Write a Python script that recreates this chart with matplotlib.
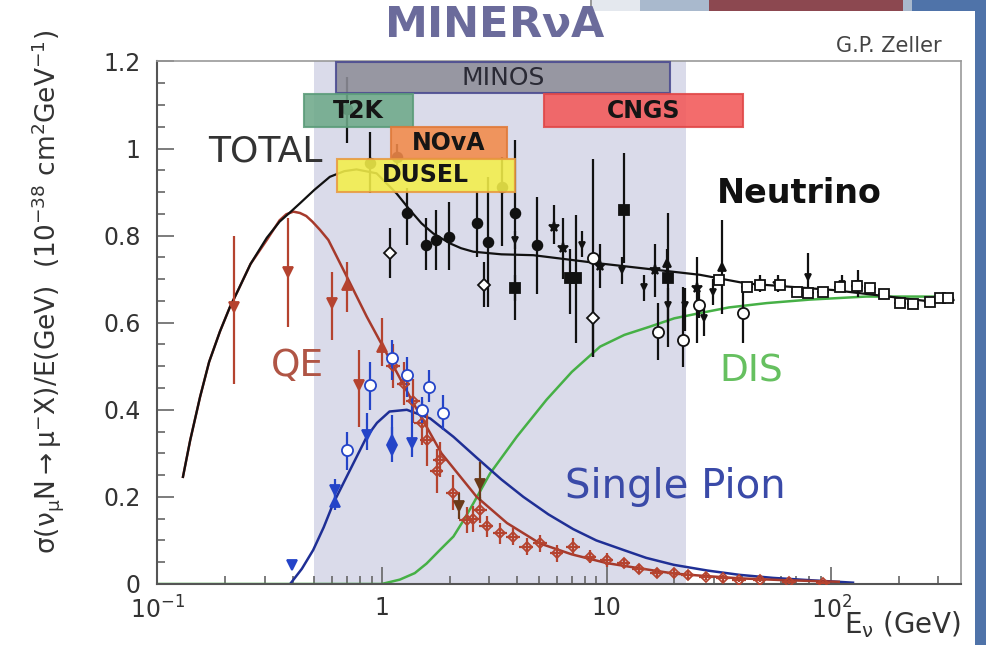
import numpy as np
import matplotlib.pyplot as plt
from matplotlib.patches import Rectangle
from matplotlib.ticker import MultipleLocator, NullFormatter

plt.rcParams['font.family'] = ['DejaVu Sans']
plt.rcParams['mathtext.fontset'] = 'dejavusans'
plt.rcParams['mathtext.default'] = 'regular'

# ---- curves (E in GeV, sigma/E in 1e-38 cm^2/GeV) ----
total_e = [0.13, 0.14, 0.155, 0.17, 0.19, 0.21, 0.229, 0.26, 0.307, 0.35, 0.389, 0.431, 0.5,
           0.586, 0.68, 0.77, 0.946, 1.16, 1.33, 1.5, 1.69, 2.01, 2.25, 2.55, 3.4, 4.72, 9.35,
           26, 42, 102, 284, 350]
total_y = [0.246, 0.33, 0.43, 0.51, 0.58, 0.635, 0.675, 0.735, 0.795, 0.832, 0.853, 0.874, 0.905,
           0.935, 0.948, 0.952, 0.943, 0.897, 0.859, 0.828, 0.805, 0.782, 0.771, 0.763, 0.757,
           0.755, 0.736, 0.71, 0.69, 0.675, 0.648, 0.652]

qe_e = [0.13, 0.14, 0.155, 0.17, 0.19, 0.21, 0.229, 0.26, 0.307, 0.35, 0.375, 0.403, 0.431, 0.46,
        0.49, 0.53, 0.577, 0.697, 0.855, 1.01, 1.38, 1.84, 2.64, 3.6, 5.05, 7.0, 10, 14, 19.9,
        28, 39, 60, 108]
qe_y = [0.246, 0.33, 0.43, 0.51, 0.58, 0.635, 0.675, 0.735, 0.79, 0.835, 0.849, 0.855, 0.852,
        0.845, 0.832, 0.813, 0.79, 0.706, 0.614, 0.545, 0.415, 0.3, 0.2, 0.14, 0.093, 0.068,
        0.048, 0.036, 0.024, 0.018, 0.013, 0.009, 0.005]

pion_e = [0.39, 0.44, 0.494, 0.55, 0.607, 0.721, 0.855, 0.95, 1.08, 1.29, 1.64, 2.08, 2.64, 3.4,
          4.26, 5.5, 7.1, 9.0, 11.9, 15, 19.9, 28, 39, 55, 78.5, 125]
pion_y = [0.0, 0.035, 0.078, 0.13, 0.185, 0.262, 0.338, 0.37, 0.396, 0.40, 0.38, 0.338, 0.29,
          0.24, 0.20, 0.16, 0.126, 0.10, 0.078, 0.06, 0.044, 0.031, 0.021, 0.014, 0.009, 0.003]

dis_e = [0.1, 0.997, 1.2, 1.4, 1.58, 1.81, 2.08, 2.3, 2.55, 3.03, 3.98, 5.4, 7.0, 9.35, 12,
         15.6, 20, 26, 35, 51.6, 80, 143, 326]
dis_y = [0.0, 0.0, 0.01, 0.025, 0.047, 0.078, 0.109, 0.145, 0.185, 0.254, 0.338, 0.423, 0.487,
         0.545, 0.572, 0.591, 0.61, 0.622, 0.635, 0.645, 0.653, 0.66, 0.66]

# ---- total cross section data ----
tot_circ_e = [0.70, 0.886, 1.17, 1.29, 1.57, 1.74, 1.98, 2.64, 2.97, 3.42, 3.9, 4.9]
tot_circ_y = [1.09, 0.966, 0.981, 0.851, 0.778, 0.79, 0.797, 0.828, 0.786, 0.912, 0.851, 0.778]
tot_circ_lo = [1.012, 0.897, 0.95, 0.778, 0.72, 0.72, 0.72, 0.75, 0.637, 0.775, 0.606, 0.667]
tot_circ_hi = [1.165, 1.039, 1.01, 0.909, 0.84, 0.859, 0.878, 0.90, 0.935, 0.98, 1.02, 0.889]

tot_diam_e = [1.085, 2.84, 8.7]
tot_diam_y = [0.759, 0.687, 0.61]
tot_diam_lo = [0.702, 0.637, 0.522]
tot_diam_hi = [0.817, 0.74, 0.675]

tot_sq_e = [3.9, 6.9, 7.3, 11.9, 18.8]
tot_sq_y = [0.679, 0.702, 0.702, 0.859, 0.702]
tot_sq_lo = [0.65, 0.62, 0.553, 0.736, 0.545]
tot_sq_hi = [0.71, 0.77, 0.847, 0.989, 0.851]

tot_star_e = [5.86, 6.4, 9.3, 16.4, 25.2, 48, 58]
tot_star_y = [0.82, 0.771, 0.73, 0.721, 0.679, 0.69, 0.69]
tot_star_lo = [0.78, 0.70, 0.68, 0.66, 0.553, 0.67, 0.67]
tot_star_hi = [0.87, 0.84, 0.78, 0.78, 0.75, 0.71, 0.71]

tot_tri_e = [3.9, 7.8, 11.7, 14.6, 18.8, 22.3, 27, 29.8, 79, 112, 132]
tot_tri_y = [0.79, 0.778, 0.721, 0.683, 0.64, 0.64, 0.61, 0.671, 0.706, 0.69, 0.69]
tot_tri_lo = [0.77, 0.75, 0.69, 0.65, 0.60, 0.58, 0.57, 0.64, 0.668, 0.67, 0.66]
tot_tri_hi = [0.81, 0.81, 0.75, 0.71, 0.68, 0.68, 0.64, 0.70, 0.76, 0.71, 0.72]

tot_triup_e = [18.6, 32.8]
tot_triup_y = [0.736, 0.729]
tot_triup_lo = [0.70, 0.621]
tot_triup_hi = [0.77, 0.836]

tot_ocirc_e = [8.7, 16.9, 21.9, 25.9, 40.4]
tot_ocirc_y = [0.748, 0.579, 0.56, 0.64, 0.622]
tot_ocirc_lo = [0.522, 0.514, 0.499, 0.61, 0.553]
tot_ocirc_hi = [0.977, 0.645, 0.683, 0.67, 0.69]

tot_osq_e = [31.6, 42.1, 48.2, 59.2, 70.2, 79, 92.2, 109, 130, 149, 171, 202, 232, 275, 305, 332]
tot_osq_y = [0.698, 0.683, 0.687, 0.687, 0.671, 0.669, 0.671, 0.683, 0.684, 0.679, 0.667,
             0.645, 0.643, 0.648, 0.656, 0.656]

# ---- QE data ----
qe_tdn_e = [0.22, 0.38, 0.597, 0.79]
qe_tdn_y = [0.637, 0.717, 0.645, 0.457]
qe_tdn_lo = [0.46, 0.59, 0.56, 0.361]
qe_tdn_hi = [0.80, 0.84, 0.716, 0.537]

qe_tup_e = [0.697, 1.0]
qe_tup_y = [0.687, 0.545]
qe_tup_lo = [0.625, 0.50]
qe_tup_hi = [0.74, 0.61]

qe_pt_e = [1.12, 1.25, 1.38, 1.5, 1.58, 1.75, 1.81, 2.08, 2.38, 2.55, 2.73, 2.92, 3.35, 3.84,
           4.4, 5.05, 6.0, 7.1, 8.4, 10, 11.9, 14, 16.7, 19.9, 23, 27.7, 33, 39, 48, 65, 92]
qe_pt_y = [0.50, 0.46, 0.42, 0.37, 0.33, 0.26, 0.285, 0.21, 0.147, 0.15, 0.17, 0.132, 0.116,
           0.109, 0.086, 0.093, 0.07, 0.086, 0.063, 0.055, 0.048, 0.035, 0.025, 0.025, 0.02,
           0.017, 0.013, 0.01, 0.01, 0.005, 0.003]
qe_pt_err = [0.05, 0.05, 0.05, 0.05, 0.06, 0.05, 0.04, 0.04, 0.03, 0.03, 0.03, 0.025, 0.025,
             0.02, 0.02, 0.02, 0.02, 0.02, 0.015, 0.015, 0.012, 0.012, 0.01, 0.01, 0.01,
             0.008, 0.008, 0.006, 0.006, 0.004, 0.003]

qe_dark_e = [2.2, 2.73]
qe_dark_y = [0.18, 0.23]
qe_dark_lo = [0.15, 0.19]
qe_dark_hi = [0.21, 0.28]

# ---- single pion data ----
pi_tdn_e = [0.396, 0.617, 0.855, 1.11, 1.36]
pi_tdn_y = [0.044, 0.216, 0.342, 0.308, 0.323]
pi_tdn_lo = [0.044, 0.19, 0.308, 0.281, 0.292]
pi_tdn_hi = [0.044, 0.24, 0.392, 0.36, 0.43]

pi_tup_e = [0.617, 1.11]
pi_tup_y = [0.189, 0.331]
pi_tup_lo = [0.17, 0.30]
pi_tup_hi = [0.216, 0.388]

pi_oc_e = [0.697, 0.88, 1.11, 1.29, 1.5, 1.62, 1.87]
pi_oc_y = [0.308, 0.457, 0.518, 0.48, 0.40, 0.453, 0.392]
pi_oc_lo = [0.262, 0.40, 0.468, 0.43, 0.37, 0.419, 0.354]
pi_oc_hi = [0.35, 0.51, 0.56, 0.522, 0.43, 0.491, 0.434]

# ---- experiment boxes ----
box_names = ['MINOS', 'T2K', 'CNGS', 'NOvA', 'DUSEL']
box_x0 = [0.624, 0.45, 5.26, 1.10, 0.628]
box_x1 = [19.1, 1.38, 40.6, 3.59, 3.91]
box_y0 = [1.127, 1.049, 1.049, 0.977, 0.901]
box_y1 = [1.198, 1.125, 1.125, 1.049, 0.977]
box_fc = ['#8e8e98', '#6ea98a', '#f25858', '#f28a4a', '#f4ef4a']
box_ec = ['#4a4a90', '#5c9c7a', '#e04848', '#e07a3a', '#e89a40']

fig = plt.figure(figsize=(9.86, 6.45), dpi=100)

# slide decoration at the top and right edge
def fig_rect(x0, y0, x1, y1, color):
    fig.add_artist(Rectangle((x0 / 986, 1 - y1 / 645), (x1 - x0) / 986, (y1 - y0) / 645,
                             transform=fig.transFigure, fc=color, ec='none', zorder=0))

fig_rect(591, 0, 640, 11, '#e4e8ee')
fig_rect(640, 0, 709, 11, '#a9b9cd')
fig_rect(709, 0, 903, 11, '#8c4850')
fig_rect(903, 0, 912, 11, '#a9b9cd')
fig_rect(912, 0, 986, 11, '#4f73a9')
fig_rect(975, 0, 986, 645, '#4f73a9')
fig_rect(590, 0, 592, 11, '#999999')

ax = fig.add_axes([0.1596, 0.0946, 0.8150, 0.8102])
ax.set_xscale('log')
ax.set_xlim(0.1, 378)
ax.set_ylim(0, 1.2)

ax.axvspan(0.5, 22.5, color='#dadbea', lw=0, zorder=0)

ax.plot(dis_e, dis_y, color='#46b046', lw=1.8, zorder=2)
ax.plot(pion_e, pion_y, color='#1f2f95', lw=1.8, zorder=2)
ax.plot(qe_e, qe_y, color='#a63a2c', lw=1.8, zorder=2)
ax.plot(total_e, total_y, color='#111111', lw=1.6, zorder=2)


def bars(e, y, lo, hi, marker, color, mfc, ms, xerr=None):
    y = np.array(y)
    yerr = [y - np.array(lo), np.array(hi) - y]
    ax.errorbar(e, y, yerr=yerr, xerr=xerr, fmt=marker, color=color, mfc=mfc, mec=color,
                ms=ms, mew=1.3, elinewidth=1.6, capsize=0, zorder=3)


k = '#111111'
bars(tot_circ_e, tot_circ_y, tot_circ_lo, tot_circ_hi, 'o', k, k, 7)
bars(tot_diam_e, tot_diam_y, tot_diam_lo, tot_diam_hi, 'D', k, 'white', 6)
bars(tot_sq_e, tot_sq_y, tot_sq_lo, tot_sq_hi, 's', k, k, 7)
bars(tot_star_e, tot_star_y, tot_star_lo, tot_star_hi, '*', k, k, 8)
bars(tot_tri_e, tot_tri_y, tot_tri_lo, tot_tri_hi, 'v', k, k, 5)
bars(tot_triup_e, tot_triup_y, tot_triup_lo, tot_triup_hi, '^', k, k, 6)
bars(tot_ocirc_e, tot_ocirc_y, tot_ocirc_lo, tot_ocirc_hi, 'o', k, 'white', 8)
osq = np.array(tot_osq_e)
bars(tot_osq_e, tot_osq_y, np.array(tot_osq_y) - 0.01, np.array(tot_osq_y) + 0.01, 's', k,
     'white', 7, xerr=[osq * 0.06, osq * 0.06])

r = '#b5432f'
bars(qe_tdn_e, qe_tdn_y, qe_tdn_lo, qe_tdn_hi, 'v', r, r, 7)
bars(qe_tup_e, qe_tup_y, qe_tup_lo, qe_tup_hi, '^', r, r, 7)
qpe = np.array(qe_pt_e)
qpy = np.array(qe_pt_y)
qerr = np.array(qe_pt_err)
bars(qe_pt_e, qe_pt_y, qpy - qerr, qpy + qerr, 'D', r, 'none', 5, xerr=[qpe * 0.07, qpe * 0.07])
bars(qe_dark_e, qe_dark_y, qe_dark_lo, qe_dark_hi, 'v', '#6a3a1a', '#6a3a1a', 7)

b = '#2444c8'
bars(pi_tdn_e, pi_tdn_y, pi_tdn_lo, pi_tdn_hi, 'v', b, b, 7)
bars(pi_tup_e, pi_tup_y, pi_tup_lo, pi_tup_hi, '^', b, b, 7)
bars(pi_oc_e, pi_oc_y, pi_oc_lo, pi_oc_hi, 'o', b, 'white', 8)

for name, x0, x1, y0, y1, fc, ec in zip(box_names, box_x0, box_x1, box_y0, box_y1, box_fc, box_ec):
    ax.add_patch(Rectangle((x0, y0), x1 - x0, y1 - y0, fc=fc, ec=ec, lw=1.5, alpha=0.88, zorder=6))
    ax.text(np.sqrt(x0 * x1), (y0 + y1) / 2, name, ha='center', va='center',
            fontsize=18 if name == 'MINOS' else 17,
            weight='normal' if name == 'MINOS' else 'bold',
            color='#2a2a35' if name == 'MINOS' else '#151515', zorder=7)

ax.text(0.303, 0.993, 'TOTAL', fontsize=26, color='#333333', ha='center', va='center', zorder=5)
ax.text(71.9, 0.897, 'Neutrino', fontsize=24, weight='bold', color='#111111', ha='center',
        va='center', zorder=5)
ax.text(0.42, 0.501, 'QE', fontsize=27, color='#b05545', ha='center', va='center', zorder=5)
ax.text(43.9, 0.489, 'DIS', fontsize=27, color='#66c060', ha='center', va='center', zorder=5)
ax.text(20.2, 0.222, 'Single Pion', fontsize=29, color='#3a4aa8', ha='center', va='center', zorder=5)

ax.set_xticks([0.1, 1, 10, 100])
ax.set_xticklabels([r'$10^{-1}$', '1', '10', r'$10^{2}$'])
ax.xaxis.set_minor_formatter(NullFormatter())
ax.set_yticks([0, 0.2, 0.4, 0.6, 0.8, 1.0, 1.2])
ax.set_yticklabels(['0', '0.2', '0.4', '0.6', '0.8', '1', '1.2'])
ax.yaxis.set_minor_locator(MultipleLocator(0.05))
ax.tick_params(which='both', direction='in', color='#666666', width=1.2, labelcolor='#333333',
               labelsize=17, top=False, right=False)
ax.tick_params(which='major', length=12)
ax.tick_params(which='minor', length=6)
ax.tick_params(axis='y', pad=12)
ax.tick_params(axis='x', pad=9)
for s in ['left', 'bottom']:
    ax.spines[s].set_color('#555555')
    ax.spines[s].set_linewidth(1.5)
for s in ['top', 'right']:
    ax.spines[s].set_color('#999999')
    ax.spines[s].set_linewidth(1.2)

fig.text(48 / 986, 1 - 292 / 645,
         r'$\sigma(\nu_{\mu}N\rightarrow\mu^{-}X)/E(GeV)\ \ (10^{-38}\ cm^{2}GeV^{-1})$',
         rotation=90, ha='center', va='center', fontsize=19, color='#333333')
fig.text(961 / 986, 1 - 625 / 645, r'$E_{\nu}$ (GeV)', ha='right', va='center', fontsize=20,
         color='#333333')
fig.text(495 / 986, 1 - 25 / 645, r'MINER$\nu$A', ha='center', va='center', fontsize=31,
         weight='bold', color='#6b6b9b')
fig.text(889 / 986, 1 - 46 / 645, 'G.P. Zeller', ha='center', va='center', fontsize=15,
         color='#444444')

fig.savefig('out.png', dpi=100)
